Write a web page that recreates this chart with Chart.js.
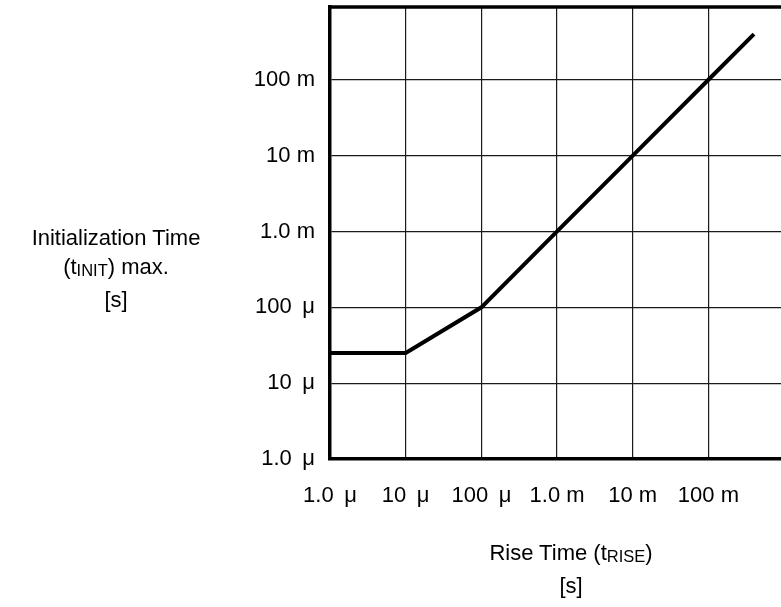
<html>
  <head>
    <script src="https://cdn.jsdelivr.net/npm/chart.js@4.4.0/dist/chart.umd.min.js"></script>
    <style>
      body { margin: 0; background: #fff; }
      #wrap { position: relative; width: 781px; height: 607px; }
      .title { position: absolute; font-family: "Liberation Sans", Arial, sans-serif; font-size: 22px; color: #000; text-align: center; line-height: 29px; white-space: nowrap; }
      .sub { font-size: 0.75em; vertical-align: -0.12em; }
    </style>
  </head>
<body>
  <div id="wrap">
    <canvas id="myChart" width="781" height="607"></canvas>
    <div class="title" style="left:16px; top:223px; width:200px;">
      Initialization Time<br>(t<span class="sub">INIT</span>) max.<br>[s]
    </div>
    <div class="title" style="left:471px; top:538px; width:200px;">
      Rise Time (t<span class="sub">RISE</span>)<br>[s]
    </div>
  </div>

<script>
  // decades on both axes
  var xTicks = [1e-6, 1e-5, 1e-4, 1e-3, 1e-2, 1e-1];
  var xTickLabels = ["1.0 \u2009μ", "10 \u2009μ", "100 \u2009μ", "1.0 m", "10 m", "100 m"];
  var yTicks = [1e-6, 1e-5, 1e-4, 1e-3, 1e-2, 1e-1];
  var yTickLabels = ["1.0 \u2009μ", "10 \u2009μ", "100 \u2009μ", "1.0 m", "10 m", "100 m"];

  // rise time vs max init time
  var riseTime = [1e-6, 1e-5, 1e-4, 1e-3, 1e-2, 1e-1, 0.4];
  var initTime = [25e-6, 25e-6, 1e-4, 1e-3, 1e-2, 1e-1, 0.4];

  var tickFont = { family: "Liberation Sans, Arial, sans-serif", size: 22 };

  // top frame line (right side runs off the picture)
  var topBorder = {
    id: 'topBorder',
    afterDraw(chart) {
      var a = chart.chartArea, c = chart.ctx;
      c.save();
      c.strokeStyle = '#000';
      c.lineWidth = 3.5;
      c.beginPath();
      c.moveTo(a.left - 1.75, a.top);
      c.lineTo(a.right, a.top);
      c.stroke();
      c.restore();
    }
  };

  var ctx = document.getElementById('myChart').getContext('2d');
  let chart = new Chart(ctx, {
    type: "line",
    data: {
      datasets: [{
        data: riseTime.map((x, i) => ({ x: x, y: initTime[i] })),
        borderColor: "#000",
        borderWidth: 4,
        pointRadius: 0,
        fill: false,
        tension: 0
      }]
    },
    options: {
      responsive: false,
      animation: false,
      layout: { padding: { top: 7, right: 0, left: 0, bottom: 0 } },
      plugins: { legend: { display: false }, tooltip: { enabled: false } },
      scales: {
        x: {
          type: "logarithmic",
          min: 1e-6,
          max: 0.91,
          afterBuildTicks: s => { s.ticks = xTicks.map(v => ({ value: v })); },
          afterFit: s => { s.height = 148; s.paddingLeft = 0; s.paddingRight = 0; },
          ticks: {
            color: "#000",
            font: tickFont,
            padding: 24,
            maxRotation: 0,
            autoSkip: false,
            callback: (v, i) => xTickLabels[i]
          },
          grid: { color: "#1a1a1a", lineWidth: 1.2, drawTicks: false },
          border: { color: "#000", width: 3.5 }
        },
        y: {
          type: "logarithmic",
          min: 1e-6,
          max: 0.91,
          afterBuildTicks: s => { s.ticks = yTicks.map(v => ({ value: v })); },
          afterFit: s => { s.width = 330; s.paddingTop = 0; s.paddingBottom = 0; },
          ticks: {
            color: "#000",
            font: tickFont,
            padding: 15,
            autoSkip: false,
            callback: (v, i) => yTickLabels[i]
          },
          grid: { color: "#1a1a1a", lineWidth: 1.2, drawTicks: false },
          border: { color: "#000", width: 3.5 }
        }
      }
    },
    plugins: [topBorder]
  });
</script>
</body>
</html>
